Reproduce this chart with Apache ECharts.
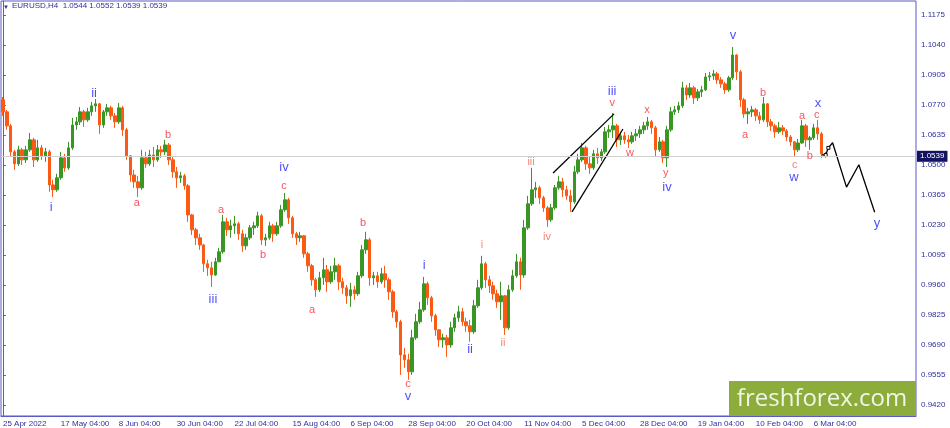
<!DOCTYPE html>
<html>
<head>
<meta charset="utf-8">
<script src="https://cdn.jsdelivr.net/npm/echarts@6/dist/echarts.min.js"></script>
<style>
  html, body { margin: 0; padding: 0; background: #fff; }
  #container { width: 950px; height: 428px; }
</style>
</head>
<body>
<div id="container"></div>
<script>
// EURUSD H4, each candle here stands for roughly a day of the original chart
// [open, close, low, high]
var candles = [
  [1.0793,1.0739,1.0721,1.0806],[1.0739,1.0676,1.0658,1.0748],[1.0676,1.0559,1.0541,1.0685],[1.0559,1.0505,1.0478,1.0568],
  [1.0505,1.0568,1.0496,1.0586],[1.0568,1.0523,1.0500,1.0577],[1.0523,1.0568,1.0509,1.0586],[1.0568,1.0613,1.0559,1.0644],
  [1.0613,1.0523,1.0491,1.0622],[1.0523,1.0577,1.0514,1.0613],[1.0577,1.0541,1.0523,1.0590],[1.0541,1.0559,1.0514,1.0577],
  [1.0559,1.0410,1.0379,1.0568],[1.0410,1.0388,1.0356,1.0433],[1.0388,1.0442,1.0379,1.0460],[1.0442,1.0532,1.0433,1.0559],
  [1.0532,1.0487,1.0469,1.0550],[1.0487,1.0577,1.0478,1.0604],[1.0577,1.0680,1.0568,1.0712],[1.0680,1.0694,1.0658,1.0716],
  [1.0694,1.0739,1.0680,1.0761],[1.0739,1.0703,1.0671,1.0748],[1.0703,1.0739,1.0694,1.0757],[1.0739,1.0766,1.0721,1.0784],
  [1.0766,1.0775,1.0739,1.0797],[1.0775,1.0680,1.0640,1.0779],[1.0680,1.0739,1.0667,1.0748],[1.0739,1.0757,1.0721,1.0775],
  [1.0757,1.0721,1.0703,1.0766],[1.0721,1.0694,1.0667,1.0734],[1.0694,1.0757,1.0685,1.0779],[1.0757,1.0658,1.0631,1.0766],
  [1.0658,1.0541,1.0523,1.0667],[1.0541,1.0455,1.0424,1.0545],[1.0455,1.0424,1.0397,1.0478],[1.0424,1.0397,1.0356,1.0451],
  [1.0397,1.0532,1.0388,1.0568],[1.0532,1.0505,1.0487,1.0559],[1.0505,1.0545,1.0496,1.0568],[1.0545,1.0523,1.0491,1.0581],
  [1.0523,1.0568,1.0514,1.0590],[1.0568,1.0559,1.0532,1.0586],[1.0559,1.0590,1.0545,1.0613],[1.0590,1.0523,1.0500,1.0599],
  [1.0523,1.0469,1.0442,1.0536],[1.0469,1.0442,1.0397,1.0491],[1.0442,1.0451,1.0419,1.0469],[1.0451,1.0406,1.0388,1.0460],
  [1.0406,1.0275,1.0244,1.0415],[1.0275,1.0208,1.0185,1.0280],[1.0208,1.0172,1.0140,1.0217],[1.0172,1.0140,1.0118,1.0190],
  [1.0140,1.0055,1.0019,1.0145],[1.0055,1.0037,1.0001,1.0073],[1.0037,1.0005,0.9951,1.0064],[1.0005,1.0064,1.0001,1.0082],
  [1.0064,1.0109,1.0064,1.0127],[1.0109,1.0244,1.0100,1.0275],[1.0244,1.0208,1.0181,1.0262],[1.0208,1.0226,1.0172,1.0253],
  [1.0226,1.0235,1.0190,1.0271],[1.0235,1.0190,1.0163,1.0244],[1.0190,1.0136,1.0109,1.0208],[1.0136,1.0172,1.0118,1.0190],
  [1.0172,1.0217,1.0163,1.0230],[1.0217,1.0226,1.0185,1.0244],[1.0226,1.0271,1.0217,1.0289],[1.0271,1.0163,1.0140,1.0280],
  [1.0163,1.0172,1.0136,1.0190],[1.0172,1.0226,1.0163,1.0244],[1.0226,1.0190,1.0154,1.0235],[1.0190,1.0226,1.0181,1.0244],
  [1.0226,1.0298,1.0217,1.0320],[1.0298,1.0343,1.0289,1.0374],[1.0343,1.0262,1.0235,1.0352],[1.0262,1.0190,1.0172,1.0271],
  [1.0190,1.0172,1.0140,1.0199],[1.0172,1.0181,1.0154,1.0199],[1.0181,1.0100,1.0082,1.0185],[1.0100,1.0046,1.0019,1.0109],
  [1.0046,0.9983,0.9956,1.0055],[0.9983,0.9938,0.9906,0.9992],[0.9938,0.9992,0.9929,1.0019],[0.9992,1.0028,0.9960,1.0082],
  [1.0028,0.9974,0.9929,1.0050],[0.9974,1.0019,0.9965,1.0046],[1.0019,1.0046,0.9983,1.0082],[1.0046,0.9974,0.9938,1.0055],
  [0.9974,0.9947,0.9920,0.9992],[0.9947,0.9911,0.9875,0.9960],[0.9911,0.9938,0.9861,0.9969],[0.9938,0.9920,0.9893,0.9956],
  [0.9920,1.0001,0.9911,1.0019],[1.0001,1.0118,0.9992,1.0140],[1.0118,1.0163,1.0100,1.0199],[1.0163,0.9992,0.9956,1.0172],
  [0.9992,1.0001,0.9960,1.0019],[1.0001,0.9974,0.9947,1.0019],[0.9974,1.0010,0.9965,1.0037],[1.0010,0.9983,0.9947,1.0046],
  [0.9983,0.9929,0.9893,0.9992],[0.9929,0.9839,0.9812,0.9938],[0.9839,0.9794,0.9767,0.9848],[0.9794,0.9645,0.9555,0.9803],
  [0.9645,0.9623,0.9587,0.9677],[0.9623,0.9569,0.9533,0.9650],[0.9569,0.9722,0.9555,0.9758],[0.9722,0.9794,0.9713,0.9830],
  [0.9794,0.9848,0.9785,0.9884],[0.9848,0.9965,0.9839,0.9996],[0.9965,0.9902,0.9870,0.9974],[0.9902,0.9821,0.9794,0.9911],
  [0.9821,0.9758,0.9731,0.9830],[0.9758,0.9713,0.9681,0.9758],[0.9713,0.9722,0.9677,0.9740],[0.9722,0.9690,0.9636,0.9735],
  [0.9690,0.9767,0.9677,0.9794],[0.9767,0.9812,0.9749,0.9830],[0.9812,0.9839,0.9794,0.9866],[0.9839,0.9794,0.9776,0.9857],
  [0.9794,0.9776,0.9749,0.9812],[0.9776,0.9749,0.9704,0.9803],[0.9749,0.9866,0.9740,0.9893],[0.9866,0.9947,0.9857,0.9983],
  [0.9947,1.0055,0.9938,1.0091],[1.0055,0.9983,0.9947,1.0064],[0.9983,0.9956,0.9924,1.0001],[0.9956,0.9920,0.9893,0.9974],
  [0.9920,0.9884,0.9857,0.9938],[0.9884,0.9911,0.9803,0.9974],[0.9911,0.9767,0.9735,0.9915],[0.9767,0.9938,0.9758,0.9960],
  [0.9938,1.0001,0.9929,1.0028],[1.0001,1.0064,0.9992,1.0100],[1.0064,1.0005,0.9938,1.0082],[1.0005,1.0217,0.9992,1.0253],
  [1.0217,1.0325,1.0208,1.0361],[1.0325,1.0388,1.0316,1.0487],[1.0388,1.0397,1.0352,1.0424],[1.0397,1.0352,1.0325,1.0406],
  [1.0352,1.0307,1.0289,1.0361],[1.0307,1.0253,1.0221,1.0316],[1.0253,1.0307,1.0244,1.0325],[1.0307,1.0397,1.0298,1.0410],
  [1.0397,1.0424,1.0388,1.0451],[1.0424,1.0388,1.0356,1.0442],[1.0388,1.0361,1.0343,1.0406],[1.0361,1.0334,1.0289,1.0388],
  [1.0334,1.0469,1.0325,1.0496],[1.0469,1.0523,1.0460,1.0550],[1.0523,1.0577,1.0514,1.0599],[1.0577,1.0505,1.0478,1.0586],
  [1.0505,1.0487,1.0460,1.0536],[1.0487,1.0550,1.0478,1.0568],[1.0550,1.0532,1.0505,1.0577],[1.0532,1.0559,1.0518,1.0572],
  [1.0559,1.0649,1.0550,1.0671],[1.0649,1.0658,1.0622,1.0680],[1.0658,1.0676,1.0622,1.0734],[1.0676,1.0613,1.0581,1.0685],
  [1.0613,1.0631,1.0590,1.0649],[1.0631,1.0613,1.0595,1.0649],[1.0613,1.0604,1.0577,1.0635],[1.0604,1.0631,1.0595,1.0649],
  [1.0631,1.0640,1.0608,1.0662],[1.0640,1.0658,1.0622,1.0676],[1.0658,1.0676,1.0640,1.0694],[1.0676,1.0694,1.0658,1.0716],
  [1.0694,1.0667,1.0640,1.0703],[1.0667,1.0568,1.0536,1.0676],[1.0568,1.0604,1.0559,1.0626],[1.0604,1.0532,1.0509,1.0613],
  [1.0532,1.0658,1.0491,1.0676],[1.0658,1.0739,1.0649,1.0761],[1.0739,1.0748,1.0725,1.0766],[1.0748,1.0766,1.0734,1.0784],
  [1.0766,1.0847,1.0757,1.0874],[1.0847,1.0815,1.0793,1.0860],[1.0815,1.0847,1.0802,1.0869],[1.0847,1.0802,1.0775,1.0856],
  [1.0802,1.0829,1.0788,1.0842],[1.0829,1.0838,1.0806,1.0856],[1.0838,1.0896,1.0833,1.0914],[1.0896,1.0901,1.0878,1.0919],
  [1.0901,1.0910,1.0883,1.0928],[1.0910,1.0883,1.0865,1.0919],[1.0883,1.0865,1.0847,1.0896],[1.0865,1.0838,1.0820,1.0874],
  [1.0838,1.0892,1.0829,1.0901],[1.0892,1.0995,1.0883,1.1031],[1.0995,1.0919,1.0883,1.0999],[1.0919,1.0793,1.0761,1.0928],
  [1.0793,1.0730,1.0712,1.0802],[1.0730,1.0739,1.0685,1.0757],[1.0739,1.0748,1.0716,1.0766],[1.0748,1.0721,1.0698,1.0757],
  [1.0721,1.0703,1.0685,1.0739],[1.0703,1.0775,1.0694,1.0806],[1.0775,1.0694,1.0671,1.0779],[1.0694,1.0676,1.0653,1.0707],
  [1.0676,1.0649,1.0622,1.0685],[1.0649,1.0667,1.0640,1.0694],[1.0667,1.0653,1.0635,1.0680],[1.0653,1.0626,1.0608,1.0662],
  [1.0626,1.0604,1.0586,1.0635],[1.0604,1.0568,1.0536,1.0608],[1.0568,1.0599,1.0559,1.0617],[1.0599,1.0676,1.0595,1.0703],
  [1.0676,1.0613,1.0581,1.0685],[1.0613,1.0622,1.0568,1.0631],[1.0622,1.0667,1.0613,1.0685],[1.0667,1.0640,1.0613,1.0703],
  [1.0640,1.0550,1.0532,1.0649],[1.0550,1.0539,1.0532,1.0559]
];

var totalSlots = 237;        // candles plus the empty space on the right
var slotsPerLabel = 15;
var dateLabels = ['25 Apr 2022', '17 May 04:00', '8 Jun 04:00', '30 Jun 04:00', '22 Jul 04:00',
  '15 Aug 04:00', '6 Sep 04:00', '28 Sep 04:00', '20 Oct 04:00', '11 Nov 04:00', '5 Dec 04:00',
  '28 Dec 04:00', '19 Jan 04:00', '10 Feb 04:00', '6 Mar 04:00'];
var priceTicks = [0.9420, 0.9555, 0.9690, 0.9825, 0.9960, 1.0095, 1.0230, 1.0365,
  1.0500, 1.0635, 1.0770, 1.0905, 1.1040, 1.1175];
var header = ['EURUSD,H4', 1.0544, 1.0552, 1.0539, 1.0539];
var lastPrice = 1.0539;

// wave marks: [slot, price, text]
var blueWaves = [
  [12.5, 1.0307, 'i'], [23.6, 1.0824, 'ii'], [54.4, 0.9893, 'iii'], [72.8, 1.0487, 'iv'],
  [104.9, 0.9456, 'v'], [109.1, 1.0050, 'i'], [121.0, 0.9668, 'ii'], [157.8, 1.0829, 'iii'],
  [172.0, 1.0401, 'iv'], [189.1, 1.1085, 'v'], [204.9, 1.0446, 'w'], [211.1, 1.0775, 'x'],
  [226.4, 1.0239, 'y']
];
var redWaves = [
  [34.7, 1.0329, 'a'], [42.8, 1.0635, 'b'], [56.5, 1.0298, 'a'], [67.4, 1.0095, 'b'],
  [72.8, 1.0406, 'c'], [80.1, 0.9848, 'a'], [93.3, 1.0239, 'b'], [104.9, 0.9515, 'c'],
  [157.8, 1.0779, 'v'], [162.4, 1.0554, 'w'], [166.8, 1.0748, 'x'], [171.7, 1.0464, 'y'],
  [192.2, 1.0635, 'a'], [196.9, 1.0824, 'b'], [207.0, 1.0721, 'a'], [209.0, 1.0541, 'b'],
  [210.8, 1.0725, 'c']
];
var salmonWaves = [
  [124.1, 1.0140, 'i'], [129.5, 0.9699, 'ii'], [136.8, 1.0514, 'iii'], [140.9, 1.0176, 'iv'],
  [205.1, 1.0500, 'c']
];

// drawn lines: [slot, price]
var channelUpper = [[142.5, 1.0464], [158.3, 1.0730]];
var channelLower = [[147.4, 1.0289], [160.6, 1.0662]];
var forecast = [[212.1, 1.0545], [213.1, 1.0545], [213.8, 1.0577], [214.9, 1.0600],
  [218.5, 1.0400], [221.7, 1.0501], [225.8, 1.0287]];

var axisColor = '#5a5ac8';
var textColor = '#30309a';
var uiFont = "'Liberation Sans', sans-serif";

var slots = [];
for (var i = 0; i < totalSlots; i++) {
  var k = i / slotsPerLabel;
  slots.push(i % slotsPerLabel === 0 && k < dateLabels.length ? dateLabels[k] : '');
}
function isLabelSlot(index) {
  return index % slotsPerLabel === 0 && index / slotsPerLabel < dateLabels.length;
}

function waveSeries(list, color, size) {
  return {
    type: 'scatter',
    xAxisIndex: 1,
    symbolSize: 1,
    itemStyle: { color: 'rgba(0,0,0,0)' },
    silent: true,
    z: 5,
    data: list.map(w => ({ value: [w[0], w[1]], name: w[2] })),
    label: {
      show: true,
      position: 'inside',
      formatter: '{b}',
      color: color,
      fontSize: size,
      fontFamily: uiFont
    }
  };
}

function lineSeries(points) {
  return {
    type: 'line',
    xAxisIndex: 1,
    data: points,
    symbol: 'none',
    silent: true,
    z: 4,
    lineStyle: { color: '#000', width: 1.3 }
  };
}

var dom = document.getElementById('container');
var myChart = echarts.init(dom);

var option = {
  animation: false,
  backgroundColor: '#fff',
  grid: {
    left: 1, top: 1, right: 34, bottom: 12,
    show: true, borderColor: axisColor, borderWidth: 1,
    outerBoundsMode: 'none'
  },
  xAxis: [
    {
      type: 'category',
      data: slots,
      boundaryGap: true,
      axisLine: { lineStyle: { color: axisColor } },
      axisTick: { interval: isLabelSlot, alignWithLabel: true, length: 3, lineStyle: { color: axisColor } },
      axisLabel: {
        interval: isLabelSlot, align: 'left', margin: 4, showMinLabel: true,
        color: textColor, fontSize: 8, fontFamily: uiFont
      },
      splitLine: { show: false }
    },
    {
      type: 'value',
      min: -0.5,
      max: totalSlots - 0.5,
      show: false
    }
  ],
  yAxis: {
    type: 'value',
    position: 'right',
    min: 0.9370,
    max: 1.1238,
    axisLine: { show: true, lineStyle: { color: axisColor } },
    axisTick: { show: true, customValues: priceTicks, length: 3, lineStyle: { color: axisColor } },
    axisLabel: {
      customValues: priceTicks, margin: 5,
      formatter: v => v.toFixed(4),
      color: textColor, fontSize: 8, fontFamily: uiFont
    },
    splitLine: { show: false }
  },
  series: [
    {
      type: 'candlestick',
      data: candles,
      barWidth: 3,
      z: 3,
      itemStyle: {
        color: '#3a9624',
        color0: '#fa5a14',
        borderColor: '#3a9624',
        borderColor0: '#fa5a14',
        borderWidth: 1
      },
      markLine: {
        silent: true,
        precision: 4,
        symbol: ['none', 'none'],
        lineStyle: { color: '#cfcfcf', width: 1, type: 'solid' },
        data: [{ yAxis: lastPrice }],
        label: {
          position: 'end',
          distance: 1,
          formatter: p => Number(p.value).toFixed(4),
          color: '#fff',
          backgroundColor: '#12125e',
          padding: [2, 3, 1, 3],
          fontSize: 8,
          fontFamily: uiFont
        }
      }
    },
    lineSeries(channelUpper),
    lineSeries(channelLower),
    Object.assign(lineSeries(forecast), {
      symbol: 'rect',
      symbolSize: (v, p) => (p.dataIndex === 1 || p.dataIndex === 2 ? 3 : 0),
      showSymbol: true,
      itemStyle: { color: '#fff', borderColor: '#000', borderWidth: 1 }
    }),
    waveSeries(blueWaves, '#1f1ff5', 13),
    waveSeries(redWaves, '#f52a36', 11),
    waveSeries(salmonWaves, '#f06650', 11)
  ],
  graphic: [
    {
      type: 'text', left: 3, top: 4,
      style: { text: '\u25BC', fontSize: 6, fill: textColor }
    },
    {
      type: 'text', left: 12, top: 2,
      style: {
        text: header[0] + '  ' + header.slice(1).map(v => v.toFixed(4)).join(' '),
        fontSize: 8, fontFamily: uiFont, fill: textColor
      }
    },
    {
      type: 'group', right: 34, bottom: 12,
      children: [
        { type: 'rect', shape: { x: 0, y: 0, width: 187, height: 35 }, style: { fill: '#8cad3c' } },
        {
          type: 'text', x: 93, y: 18,
          style: {
            text: 'freshforex.com', fontSize: 24, fontFamily: "'Open Sans', sans-serif",
            fill: '#f1f5e6', align: 'center', verticalAlign: 'middle'
          }
        }
      ]
    }
  ]
};

myChart.setOption(option);
window.onresize = function() {
  myChart.resize();
};
</script>
</body>
</html>
